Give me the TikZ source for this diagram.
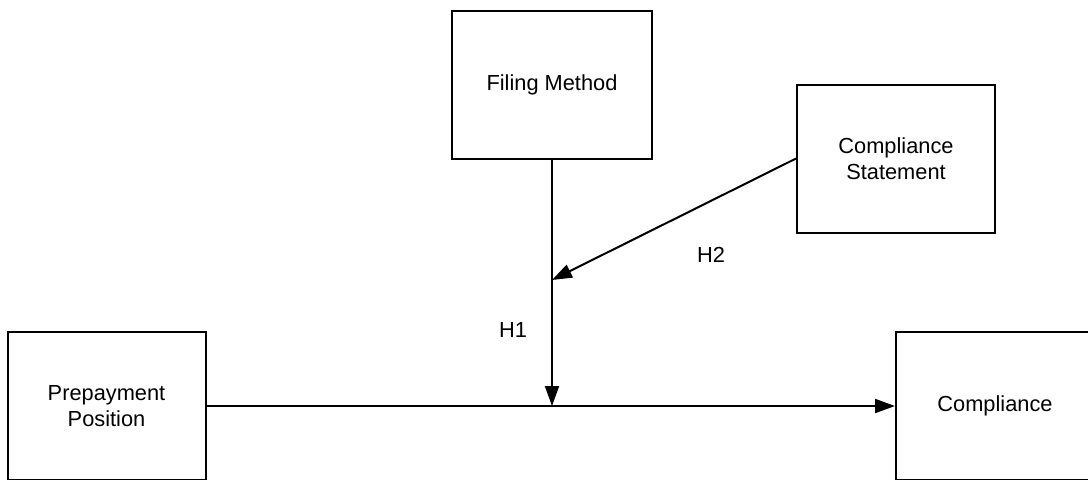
\documentclass[tikz,border=0pt]{standalone}
\usepackage{fontspec}
\setmainfont{Liberation Sans}
\usetikzlibrary{arrows.meta}
\begin{document}
\begin{tikzpicture}[x=0.5pt,y=-0.5pt,
  box/.style={draw=black,line width=1pt,fill=white,align=center,
    minimum width=99pt,minimum height=74pt,inner sep=0pt,
    font=\fontsize{10.9}{13}\selectfont},
  link/.style={line width=1pt,-{Triangle[length=10pt,width=7pt]}},
  hyp/.style={font=\fontsize{10.9}{13}\selectfont,inner sep=0pt}]
\useasboundingbox (0,0) rectangle (1088,479);
% variables
\node[box,minimum width=100pt] (fm) at (552,84.5) {Filing Method};
\node[box] (cs) at (896,158.5) {Compliance\\Statement};
\node[box] (pp) at (106.5,406) {Prepayment\\Position};
\node[box] (co) at (995,406) {Compliance};
% points where the moderating paths meet
\coordinate (hit) at (fm.south |- pp.east);
\coordinate (mod) at (552,280);
% paths
\draw[link] (pp.east) -- (co.west);
\draw[link] (fm.south) -- (hit);
\draw[link] (cs.west) -- (mod);
% hypothesis labels
\node[hyp] (h1) at (513,330) {H1};
\node[hyp] (h2) at (711,255) {H2};
\end{tikzpicture}
\end{document}
